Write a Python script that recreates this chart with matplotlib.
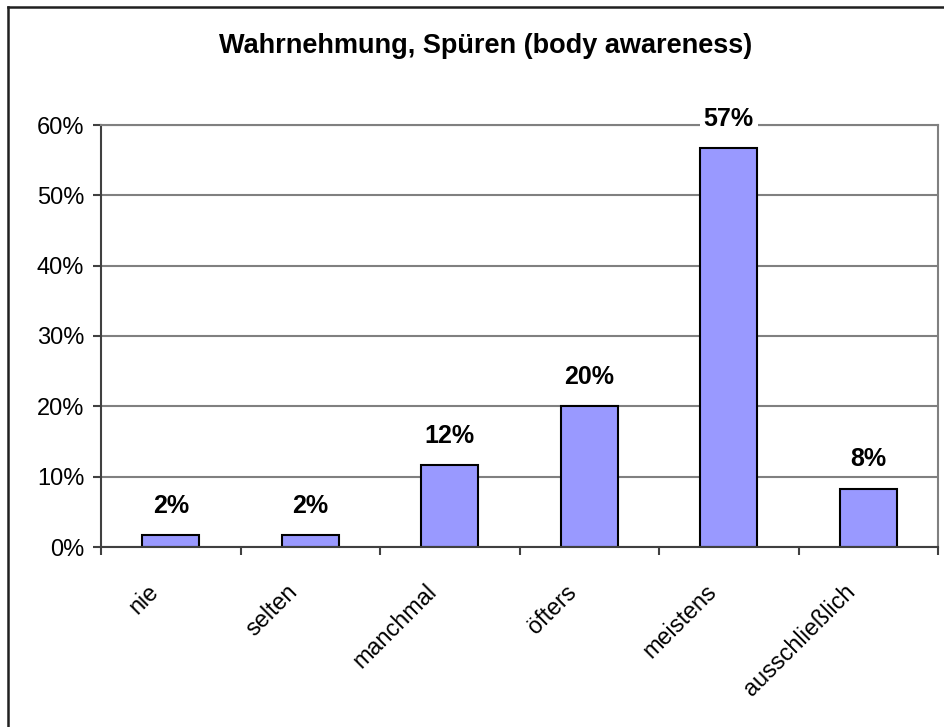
import matplotlib
matplotlib.use("Agg")
import matplotlib.pyplot as plt
from matplotlib.lines import Line2D
from matplotlib.ticker import FixedLocator, NullFormatter

plt.rcParams['font.family'] = ['Liberation Sans', 'DejaVu Sans']

categories = ["nie", "selten", "manchmal", "öfters", "meistens", "ausschließlich"]
values = [1.7, 1.7, 11.7, 20.0, 56.7, 8.3]
value_labels = ["2%", "2%", "12%", "20%", "57%", "8%"]
y_ticks = [0, 10, 20, 30, 40, 50, 60]
y_tick_labels = ["0%", "10%", "20%", "30%", "40%", "50%", "60%"]
title = "Wahrnehmung, Spüren (body awareness)"

W, H = 944, 727
fig = plt.figure(figsize=(W / 100, H / 100), dpi=100)
ax = fig.add_axes([101 / W, 1 - 547 / H, (938 - 101) / W, (547 - 125) / H])

x = list(range(len(categories)))
ax.bar(x, values, width=0.41, color="#9999FF", edgecolor="black", linewidth=1.5, zorder=3)

ax.set_xlim(-0.5, len(categories) - 0.5)
ax.set_ylim(0, 60)
ax.set_yticks(y_ticks)
ax.set_yticklabels(y_tick_labels, fontsize=17)
ax.yaxis.grid(True, color="#808080", linewidth=1.5, zorder=0)
ax.tick_params(axis='y', length=6, width=1.5, color="#404040", pad=6)

ax.xaxis.set_major_locator(FixedLocator([i - 0.5 for i in range(len(categories) + 1)]))
ax.xaxis.set_major_formatter(NullFormatter())
ax.tick_params(axis='x', length=6, width=1.5, color="#404040")

for i, c in enumerate(categories):
    ax.annotate(c, xy=(i, 0), xycoords='data', xytext=(-17.5, -24), textcoords='offset points',
                rotation=45, ha='right', va='top', rotation_mode='anchor', fontsize=16.8)

for i, (v, lab) in enumerate(zip(values, value_labels)):
    ax.annotate(lab, xy=(i, v), xycoords='data', xytext=(0, 21), textcoords='offset points',
                ha='center', va='center', fontsize=18, fontweight='bold', zorder=5,
                bbox=dict(boxstyle='square,pad=0.15', fc='white', ec='none'))

ax.spines['left'].set_color("#404040")
ax.spines['left'].set_linewidth(1.5)
ax.spines['bottom'].set_color("#404040")
ax.spines['bottom'].set_linewidth(1.5)
ax.spines['bottom'].set_zorder(4)
ax.spines['right'].set_color("#808080")
ax.spines['right'].set_linewidth(1.5)
ax.spines['top'].set_color("#808080")
ax.spines['top'].set_linewidth(1.5)

fig.text(486 / W, 1 - 46 / H, title, ha='center', va='center', fontsize=19.5, fontweight='bold')

fig.add_artist(Line2D([7.5 / W, 7.5 / W], [0, 1 - 7 / H], color="#202020", linewidth=1.8,
                      transform=fig.transFigure))
fig.add_artist(Line2D([7.5 / W, 1], [1 - 7 / H, 1 - 7 / H], color="#202020", linewidth=1.8,
                      transform=fig.transFigure))

fig.savefig("out.png", dpi=100)
